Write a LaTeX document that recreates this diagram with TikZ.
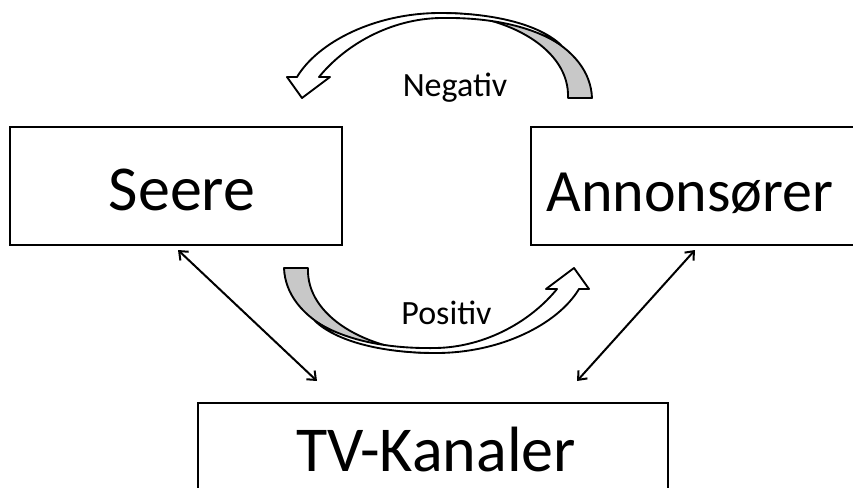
\documentclass[tikz,border=0pt]{standalone}
\usepackage{fontspec}
\setmainfont{Carlito}
\usetikzlibrary{arrows.meta}
\definecolor{ribgray}{RGB}{200,200,200}
\tikzset{
  box/.style={draw, line width=2.2pt, inner sep=0pt},
  big/.style={font=\fontsize{48}{56}\selectfont, anchor=base, inner sep=0pt},
  small/.style={font=\fontsize{25.5}{30}\selectfont, anchor=base, inner sep=0pt},
  link/.style={line width=1.5pt, {Straight Barb[length=5.5pt,width=9pt]}-{Straight Barb[length=5.5pt,width=9pt]}},
  ribline/.style={line width=1.4pt, line join=round},
  ribbon/.pic={
    \filldraw[ribline, fill=ribgray] (592,98) .. controls (590,45) and (520,13) .. (440,13)
      .. controls (510,15) and (570,50) .. (568,98) -- cycle;
    \filldraw[ribline, fill=white] (302,98) -- (287,77) -- (297,77)
      .. controls (318,42) and (375,13) .. (440,13)
      .. controls (495,13) and (540,25) .. (561,45)
      .. controls (535,28) and (495,17) .. (440,18)
      .. controls (390,19) and (345,45) .. (319,77) -- (330,77) -- cycle;
  }
}
\begin{document}
\begin{tikzpicture}[x=0.75pt,y=-0.75pt]
\useasboundingbox (0,0) rectangle (853,487);
\fill[white] (0,0) rectangle (853,487);
% boxes
\node[box, minimum width=249pt, minimum height=88.5pt] (seere) at (176,186) {};
\node[box, minimum width=254.25pt, minimum height=88.5pt] (annons) at (700.5,186) {};
\node[box, minimum width=352.5pt, minimum height=72.75pt] (tv) at (433,451.5) {};
% labels
\node[big] (seeretxt) at (182,210) {Seere};
\node[big, font=\fontsize{45}{54}\selectfont] (annonstxt) at (690,211) {Annonsører};
\node[big] (tvtxt) at (436,471) {TV-Kanaler};
\node[small] (neg) at (455,96) {Negativ};
\node[small] (pos) at (446.5,324) {Positiv};
% connectors
\coordinate (s1) at (178,250);
\coordinate (t1) at (317,381);
\coordinate (a1) at (695,250);
\coordinate (t2) at (577,381);
\draw[link] (s1) -- (t1);
\draw[link] (a1) -- (t2);
% curved arrows
\pic at (0,0) {ribbon};
\pic[rotate=180] at (876,366) {ribbon};
\end{tikzpicture}
\end{document}
